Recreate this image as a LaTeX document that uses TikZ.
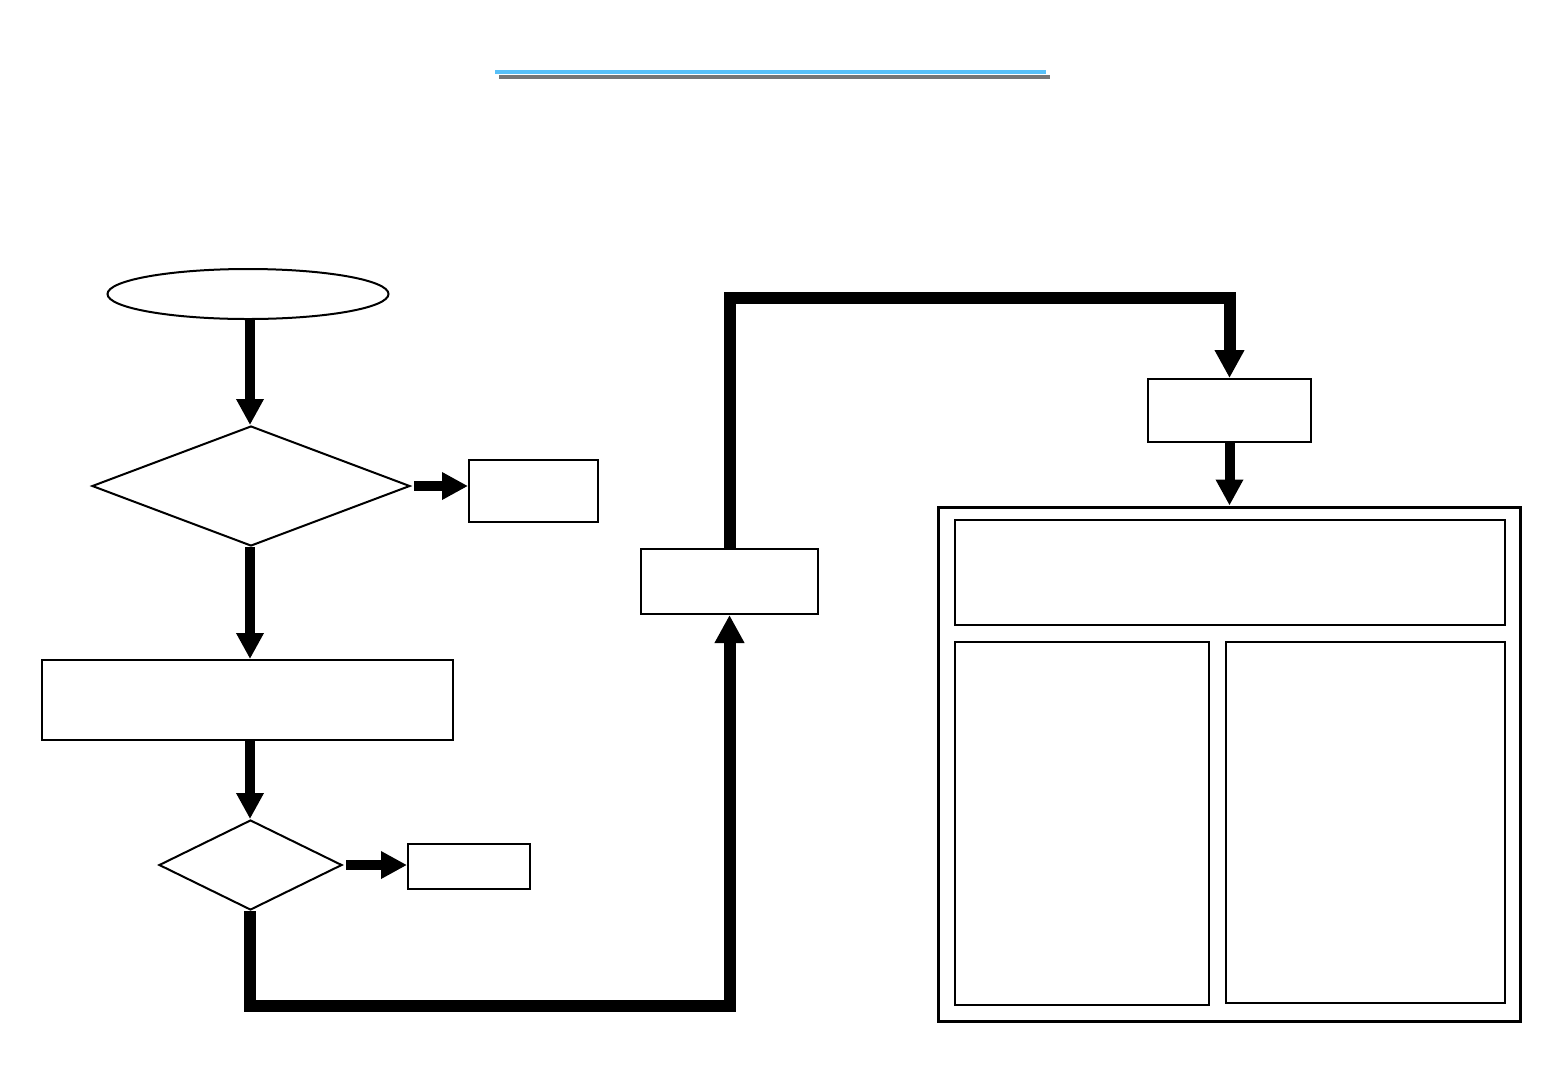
\documentclass[tikz,border=0pt]{standalone}
\usetikzlibrary{shapes.geometric,arrows.meta}
\definecolor{titleblue}{RGB}{88,192,248}
\definecolor{titlegray}{RGB}{118,118,118}
\begin{document}
\begin{tikzpicture}[x=1pt,y=-1pt,
  box/.style={draw,line width=2pt,inner sep=0pt,minimum width=#1},
  dia/.style={draw,diamond,line width=2pt,inner sep=0pt},
  arr/.style={line width=10pt,-{Triangle[length=26pt,width=26pt]}},
  bigarr/.style={line width=12pt,-{Triangle[length=28pt,width=28pt]}}]
\fill[white] (0,0) rectangle (1560,1080);
\useasboundingbox (0,0) rectangle (1560,1080);
% title underline
\draw[titlegray,line width=4pt] (499,77) -- (1050,77);
\draw[titleblue,line width=4pt] (495,72) -- (1046,72);
% nodes
\node[draw,ellipse,line width=2pt,inner sep=0pt,minimum width=281pt,minimum height=50pt] (ell) at (248,294) {};
\node[dia,minimum width=318pt,minimum height=120pt] (d1) at (251,486) {};
\node[box=129pt,minimum height=62pt] (b1) at (533.5,491) {};
\node[box=411pt,minimum height=80pt] (b2) at (247.5,700) {};
\node[dia,minimum width=183pt,minimum height=90pt] (d2) at (250.5,865) {};
\node[box=122pt,minimum height=45pt] (b3) at (469,866.5) {};
\node[box=177pt,minimum height=65pt] (b4) at (729.5,581.5) {};
\node[box=163pt,minimum height=63pt] (b5) at (1229.5,410.5) {};
\node[draw,line width=3pt,inner sep=0pt,minimum width=582pt,minimum height=514pt] (outer) at (1229,764) {};
\node[box=550pt,minimum height=105pt] (top) at (1230,572.5) {};
\node[box=254pt,minimum height=363pt] (bl) at (1082,823.5) {};
\node[box=279pt,minimum height=361pt] (br) at (1365.5,822.5) {};
% connectors
\coordinate (low) at (0,1006);
\coordinate (high) at (0,298);
\coordinate (colx) at (250,0);
\draw[arr] (ell.south -| colx) -- (d1.north -| colx);
\draw[arr] ([xshift=3pt]d1.east) -- (b1.west |- d1.east);
\draw[arr] (d1.south -| colx) -- (b2.north -| colx);
\draw[arr] (b2.south -| colx) -- (d2.north -| colx);
\draw[arr] ([xshift=3pt]d2.east) -- (b3.west |- d2.east);
\draw[bigarr] (d2.south -| colx) -- (colx |- low) -| (b4.south);
\draw[bigarr] (b4.north) -- (b4.north |- high) -| (b5.north);
\draw[arr] (b5.south) -- (outer.north -| b5.south);
\end{tikzpicture}
\end{document}
